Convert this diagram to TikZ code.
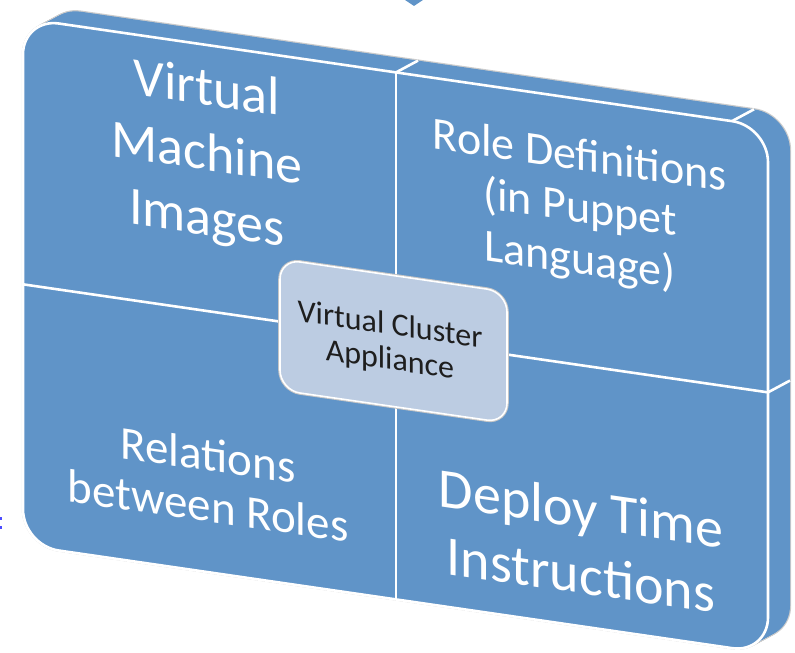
\documentclass[tikz,border=0pt]{standalone}
\usepackage{fontspec}
\setmainfont{Carlito}
\definecolor{slab}{RGB}{96,148,200}
\definecolor{corefill}{RGB}{188,204,226}
\definecolor{coretext}{RGB}{30,30,30}
\tikzset{
  rim/.style={gray!40, line width=2.4pt},
  seam/.style={white, line width=2.6pt},
  quadtext/.style={text=white, align=center, inner sep=0pt},
  coretxt/.style={text=coretext, align=center, inner sep=0pt,
    font=\fontsize{32}{35}\selectfont},
  corebox/.style={fill=corefill, draw=white, line width=1.6pt,
    rounded corners=20pt, minimum width=227pt, minimum height=131pt,
    preaction={draw=gray!45, line width=3.6pt}}
}
\begin{document}
\begin{tikzpicture}[x=1pt,y=1pt]
\useasboundingbox (0,0) rectangle (795,653);

% cropped bits of neighbouring shapes at the edges
\fill[slab] (405,653) -- (423,653) -- (414,647) -- cycle;
\fill[blue!70] (0,133) rectangle (2,136);
\fill[blue!70] (0,124) rectangle (2,127);

\begin{scope}[yslant=-0.145, every node/.style={transform shape}]
  % thickness of the slab: a swept rounded rectangle
  \foreach \i in {0,...,20}
    \draw[rim, rounded corners=36pt]
      ({23+1.1*\i},{111+0.75*\i}) rectangle ({768+1.1*\i},{638+0.75*\i});
  \foreach \i in {0,...,20}
    \fill[slab, rounded corners=36pt]
      ({23+1.1*\i},{111+0.75*\i}) rectangle ({768+1.1*\i},{638+0.75*\i});

  % front face
  \draw[seam, fill=slab, rounded corners=36pt] (23,111) rectangle (768,638);

  % quadrant seams and their edges running back over the slab
  \coordinate (midL) at (23,372);
  \coordinate (midR) at (768,372);
  \coordinate (midT) at (396,638);
  \coordinate (midB) at (396,111);
  \coordinate (cornerTR) at (732,638);
  \draw[seam] (midL) -- (midR);
  \draw[seam] (midB) -- (midT);
  \draw[seam] (midT) -- ++(22,15) coordinate (backT);
  \draw[seam] (cornerTR) -- ++(22,15) coordinate (backTR);
  \draw[seam] (midR) -- ++(22,15) coordinate (backR);

  % quadrant labels
  \node[quadtext, font=\fontsize{54}{65}\selectfont] (vmi) at (207,527)
    {Virtual\\Machine\\Images};
  \node[quadtext, font=\fontsize{46}{52}\selectfont] (roles) at (580,527)
    {Role Definitions\\(in Puppet\\Language)};
  \node[quadtext, font=\fontsize{47}{51}\selectfont] (rel) at (208,203)
    {Relations\\between Roles};
  \node[quadtext, font=\fontsize{56}{66}\selectfont] (deploy) at (581,196)
    {Deploy Time\\Instructions};

  % central box
  \node[corebox] (core) at (393.5,369) {};
  \node[coretxt] (coreLabel) at (390,366) {Virtual Cluster\\Appliance};
\end{scope}
\end{tikzpicture}
\end{document}
